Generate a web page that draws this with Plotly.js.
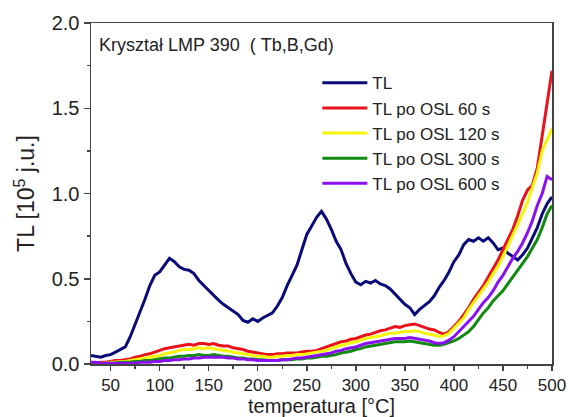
<!DOCTYPE html>
<html>
<head>
<meta charset="utf-8">
<script src="https://cdn.plot.ly/plotly-3.0.1.min.js"></script>
<style>html,body{margin:0;padding:0;background:#fff;}#chart{width:568px;height:417px;}</style>
</head>
<body>
<div id="chart"></div>
<script>
// Temperatures [°C], 5-degree steps from 30 to 500
const temperature = [30,35,40,45,50,55,60,65,70,75,80,85,90,95,100,105,110,115,120,125,130,135,140,145,150,155,160,165,170,175,180,185,190,195,200,205,210,215,220,225,230,235,240,245,250,255,260,265,270,275,280,285,290,295,300,305,310,315,320,325,330,335,340,345,350,355,360,365,370,375,380,385,390,395,400,405,410,415,420,425,430,435,440,445,450,455,460,465,470,475,480,485,490,495,500];

const seriesNames = ["TL", "TL po OSL 60 s", "TL po OSL 120 s", "TL po OSL 300 s", "TL po OSL 600 s"];

const tl = [0.05,0.045,0.04,0.05,0.055,0.07,0.085,0.10,0.16,0.23,0.30,0.38,0.46,0.52,0.54,0.58,0.62,0.60,0.57,0.555,0.55,0.53,0.49,0.46,0.43,0.40,0.375,0.35,0.33,0.315,0.29,0.255,0.245,0.265,0.25,0.27,0.285,0.30,0.34,0.39,0.46,0.52,0.58,0.67,0.76,0.81,0.86,0.895,0.85,0.79,0.72,0.67,0.59,0.53,0.48,0.465,0.485,0.475,0.49,0.47,0.46,0.44,0.41,0.375,0.35,0.33,0.29,0.32,0.34,0.365,0.40,0.45,0.49,0.54,0.60,0.64,0.70,0.73,0.72,0.74,0.72,0.74,0.71,0.67,0.68,0.65,0.63,0.61,0.64,0.68,0.74,0.80,0.88,0.94,0.98];

const osl60 = [0.0,0.005,0.01,0.01,0.015,0.02,0.02,0.025,0.03,0.04,0.045,0.055,0.06,0.07,0.08,0.09,0.095,0.10,0.105,0.11,0.115,0.11,0.12,0.12,0.115,0.12,0.11,0.105,0.105,0.095,0.09,0.085,0.075,0.07,0.065,0.06,0.055,0.055,0.06,0.06,0.065,0.065,0.065,0.07,0.075,0.075,0.08,0.09,0.10,0.11,0.12,0.13,0.135,0.145,0.15,0.16,0.17,0.175,0.185,0.195,0.20,0.21,0.22,0.215,0.225,0.23,0.235,0.225,0.215,0.205,0.20,0.185,0.175,0.19,0.22,0.25,0.29,0.33,0.38,0.42,0.46,0.51,0.56,0.61,0.67,0.73,0.79,0.87,0.96,1.02,1.05,1.15,1.35,1.52,1.72];

const osl120 = [0.0,0.0,0.005,0.005,0.01,0.01,0.015,0.015,0.02,0.025,0.03,0.035,0.04,0.045,0.05,0.06,0.065,0.07,0.08,0.085,0.085,0.09,0.095,0.09,0.095,0.09,0.085,0.08,0.075,0.07,0.065,0.06,0.055,0.05,0.045,0.045,0.04,0.04,0.045,0.045,0.05,0.05,0.055,0.055,0.06,0.065,0.07,0.075,0.08,0.09,0.10,0.11,0.115,0.125,0.13,0.14,0.15,0.155,0.16,0.165,0.175,0.18,0.18,0.185,0.19,0.19,0.195,0.19,0.18,0.175,0.17,0.16,0.165,0.18,0.21,0.24,0.27,0.32,0.36,0.40,0.44,0.48,0.53,0.57,0.63,0.69,0.75,0.82,0.88,0.95,1.03,1.12,1.25,1.32,1.38];

const osl300 = [0.0,0.0,0.0,0.005,0.005,0.005,0.01,0.01,0.01,0.015,0.015,0.02,0.02,0.025,0.03,0.035,0.035,0.04,0.045,0.045,0.05,0.05,0.055,0.05,0.05,0.055,0.05,0.045,0.045,0.04,0.035,0.035,0.03,0.03,0.025,0.025,0.02,0.02,0.02,0.025,0.025,0.025,0.03,0.03,0.035,0.035,0.04,0.045,0.045,0.05,0.055,0.065,0.07,0.075,0.085,0.09,0.10,0.105,0.11,0.115,0.12,0.125,0.13,0.13,0.13,0.135,0.13,0.125,0.12,0.115,0.11,0.11,0.115,0.125,0.135,0.15,0.17,0.19,0.22,0.26,0.30,0.33,0.37,0.40,0.43,0.47,0.51,0.55,0.59,0.63,0.68,0.73,0.80,0.88,0.93];

const osl600 = [0.01,0.01,0.005,0.005,0.005,0.005,0.005,0.005,0.005,0.005,0.01,0.01,0.01,0.015,0.015,0.02,0.02,0.025,0.025,0.03,0.03,0.035,0.035,0.04,0.04,0.04,0.04,0.04,0.035,0.035,0.03,0.03,0.025,0.025,0.02,0.02,0.02,0.02,0.02,0.025,0.025,0.03,0.035,0.035,0.04,0.045,0.05,0.055,0.06,0.065,0.075,0.08,0.09,0.095,0.10,0.11,0.12,0.125,0.13,0.135,0.14,0.145,0.15,0.15,0.15,0.155,0.15,0.145,0.14,0.135,0.125,0.12,0.125,0.14,0.16,0.19,0.22,0.25,0.28,0.32,0.36,0.39,0.43,0.48,0.52,0.57,0.62,0.66,0.71,0.77,0.84,0.93,1.00,1.10,1.08];

const seriesValues = [tl, osl60, osl120, osl300, osl600];
const seriesColors = ["#0a0a78", "#e8121a", "#f5f50a", "#128a12", "#8a10f0"];

const FONT = "Liberation Sans, Arial, sans-serif";
const TEXT = "#222222";
const AXIS = "#444444";

const traces = seriesNames.map((name, i) => ({
  type: "scatter",
  mode: "lines",
  name: name,
  x: temperature,
  y: seriesValues[i],
  line: {color: seriesColors[i], width: 3}
}));

const layout = {
  width: 568,
  height: 417,
  margin: {l: 91, r: 16, t: 23, b: 53},
  paper_bgcolor: "#ffffff",
  plot_bgcolor: "#ffffff",
  font: {family: FONT, color: TEXT, size: 19},
  showlegend: true,
  legend: {
    x: 0.491, y: 0.876, xanchor: "left", yanchor: "top",
    bgcolor: "rgba(0,0,0,0)",
    font: {family: FONT, size: 17, color: TEXT},
    itemwidth: 45,
    tracegroupgap: 0
  },
  xaxis: {
    range: [30, 500],
    tick0: 50, dtick: 50,
    ticks: "outside", ticklen: 5, tickwidth: 1.5, tickcolor: AXIS,
    minor: {ticks: "outside", ticklen: 3, tickwidth: 1.5, tickcolor: AXIS, dtick: 25, tick0: 25},
    showline: true, linecolor: AXIS, linewidth: 1.5, mirror: true,
    showgrid: false, zeroline: false,
    tickfont: {family: FONT, size: 17, color: TEXT}
  },
  yaxis: {
    range: [0, 2.0],
    tick0: 0, dtick: 0.5, tickformat: ".1f",
    ticks: "outside", ticklen: 6, tickwidth: 1.5, tickcolor: AXIS,
    minor: {ticks: "outside", ticklen: 3, tickwidth: 1.5, tickcolor: AXIS, dtick: 0.25},
    showline: true, linecolor: AXIS, linewidth: 1.5, mirror: true,
    showgrid: false, zeroline: false,
    tickfont: {family: FONT, size: 20, color: TEXT},
    title: {text: "TL [10<sup>5</sup> j.u.]", font: {family: FONT, size: 23, color: TEXT}, standoff: 10}
  },
  annotations: [
    {
      xref: "paper", yref: "paper", x: 0.012, y: 0.97, xanchor: "left", yanchor: "top",
      text: "Kryształ LMP 390\u00a0\u00a0(\u00a0Tb,B,Gd)", showarrow: false,
      font: {family: FONT, size: 18, color: TEXT}
    },
    {
      xref: "paper", yref: "paper", x: 0.5, y: -0.158, xanchor: "center", yanchor: "bottom",
      text: "temperatura [°C]", showarrow: false, borderpad: 0,
      font: {family: FONT, size: 20, color: TEXT}
    }
  ]
};

Plotly.newPlot("chart", traces, layout, {displayModeBar: false, staticPlot: true});
</script>
</body>
</html>
